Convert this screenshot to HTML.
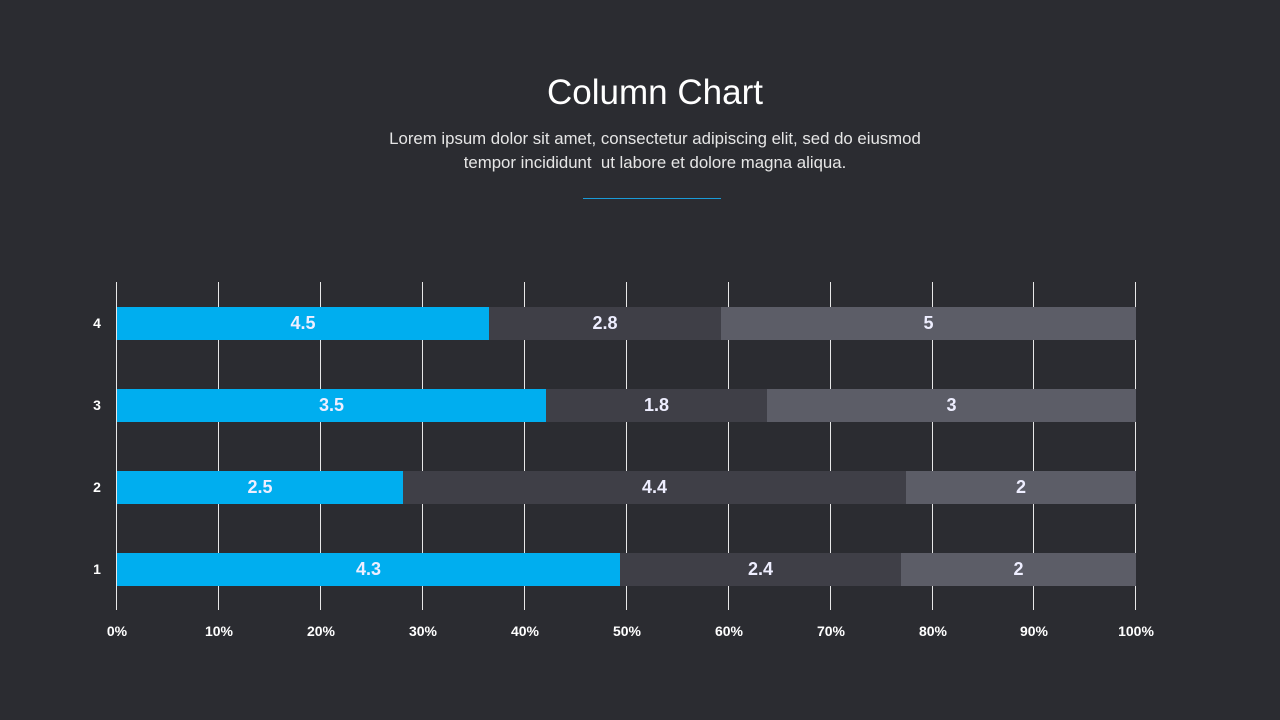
<!DOCTYPE html>
<html><head><meta charset="utf-8"><style>
body{margin:0;width:1280px;height:720px;background:#2b2c31;position:relative;overflow:hidden;font-family:"Liberation Sans",sans-serif;color:#fff}
.t{position:absolute;left:0;width:1310px;text-align:center}
.g{position:absolute;top:282px;height:328px;width:1px;background:#e8e8e8}
.b{position:absolute;height:33px;display:flex;align-items:center;justify-content:center;font-size:18px;font-weight:bold;color:#eef}
.x{position:absolute;top:623px;font-size:14px;font-weight:bold;width:60px;margin-left:-30px;text-align:center}
.y{position:absolute;left:90px;font-size:14px;font-weight:bold;width:14px;text-align:center}
</style></head><body>
<div class="t" style="top:73px;font-size:35px;font-weight:300">Column Chart</div>
<div class="t" style="top:127px;font-size:16.8px;line-height:24px;color:#e6e6e6">Lorem ipsum dolor sit amet, consectetur adipiscing elit, sed do eiusmod<br>tempor incididunt &nbsp;ut labore et dolore magna aliqua.</div>
<div style="position:absolute;left:583px;top:198px;width:138px;height:1px;background:#1a9bd7"></div>

<div class="g" style="left:116px"></div><div class="g" style="left:218px"></div><div class="g" style="left:320px"></div><div class="g" style="left:422px"></div><div class="g" style="left:524px"></div><div class="g" style="left:626px"></div><div class="g" style="left:728px"></div><div class="g" style="left:830px"></div><div class="g" style="left:932px"></div><div class="g" style="left:1033px"></div><div class="g" style="left:1135px"></div>

<div class="b" style="top:307px;left:117px;width:372px;background:#00aeef">4.5</div>
<div class="b" style="top:307px;left:489px;width:232px;background:#3f3f47">2.8</div>
<div class="b" style="top:307px;left:721px;width:415px;background:#5c5d67">5</div>

<div class="b" style="top:389px;left:117px;width:429px;background:#00aeef">3.5</div>
<div class="b" style="top:389px;left:546px;width:221px;background:#3f3f47">1.8</div>
<div class="b" style="top:389px;left:767px;width:369px;background:#5c5d67">3</div>

<div class="b" style="top:471px;left:117px;width:286px;background:#00aeef">2.5</div>
<div class="b" style="top:471px;left:403px;width:503px;background:#3f3f47">4.4</div>
<div class="b" style="top:471px;left:906px;width:230px;background:#5c5d67">2</div>

<div class="b" style="top:553px;left:117px;width:503px;background:#00aeef">4.3</div>
<div class="b" style="top:553px;left:620px;width:281px;background:#3f3f47">2.4</div>
<div class="b" style="top:553px;left:901px;width:235px;background:#5c5d67">2</div>

<div class="y" style="top:315px">4</div><div class="y" style="top:397px">3</div><div class="y" style="top:479px">2</div><div class="y" style="top:561px">1</div>

<div class="x" style="left:117px">0%</div><div class="x" style="left:219px">10%</div><div class="x" style="left:321px">20%</div><div class="x" style="left:423px">30%</div><div class="x" style="left:525px">40%</div><div class="x" style="left:627px">50%</div><div class="x" style="left:729px">60%</div><div class="x" style="left:831px">70%</div><div class="x" style="left:933px">80%</div><div class="x" style="left:1034px">90%</div><div class="x" style="left:1136px">100%</div>
</body></html>
